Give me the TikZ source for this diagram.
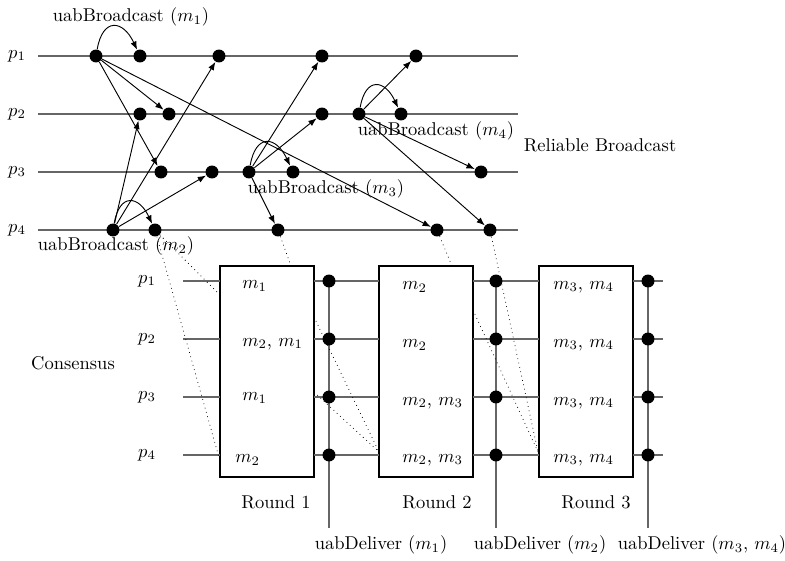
\documentclass[tikz,border=0pt]{standalone}
\usepackage{amsmath,amssymb}
\usetikzlibrary{arrows.meta}

\tikzset{
	dot/.style = {circle, fill=black, inner sep=0pt, minimum size=7pt},
	timeline/.style = {black!60, line width=0.8pt},
	msg/.style = {-{Latex[length=4.5pt,width=3.4pt]}, line width=0.5pt},
	selfmsg/.style = {msg, out=80, in=115, looseness=2.1},
	roundbox/.style = {line width=0.6pt},
	cell/.style = {anchor=west, inner sep=0pt}
}

\begin{document}
\begin{tikzpicture}[x=0.54pt, y=-0.54pt]
	\useasboundingbox (0,0) rectangle (785,560);

	% reliable broadcast
	\foreach \i/\y in {1/56, 2/114, 3/172, 4/230}{
		\node (rb\i) at (17,\y) {$p_{\i}$};
		\draw[timeline] (38,\y)--(518,\y);
	}
	\node (rbname) at (600,145) {Reliable Broadcast};

	% m1 from p1
	\node[dot] (a0) at (96,56) {};
	\node[dot] (a1) at (140,56) {};
	\node[dot] (a2) at (169,114) {};
	\node[dot] (a3) at (161,172) {};
	\node[dot] (a4) at (437,230) {};
	% m2 from p4
	\node[dot] (b0) at (113,230) {};
	\node[dot] (b1) at (219,56) {};
	\node[dot] (b2) at (140,114) {};
	\node[dot] (b3) at (212,172) {};
	\node[dot] (b4) at (155,230) {};
	% m3 from p3
	\node[dot] (c0) at (249,172) {};
	\node[dot] (c1) at (322,56) {};
	\node[dot] (c2) at (322,114) {};
	\node[dot] (c3) at (293,172) {};
	\node[dot] (c4) at (278,230) {};
	% m4 from p2
	\node[dot] (d0) at (359,114) {};
	\node[dot] (d1) at (416,56) {};
	\node[dot] (d2) at (401,114) {};
	\node[dot] (d3) at (481,172) {};
	\node[dot] (d4) at (490,230) {};

	\draw (a0) edge[selfmsg] (a1);
	\foreach \k in {2,3,4} \draw[msg] (a0)--(a\k);
	\draw (b0) edge[selfmsg] (b4);
	\foreach \k in {1,2,3} \draw[msg] (b0)--(b\k);
	\draw (c0) edge[selfmsg] (c3);
	\foreach \k in {1,2,4} \draw[msg] (c0)--(c\k);
	\draw (d0) edge[selfmsg] (d2);
	\foreach \k in {1,3,4} \draw[msg] (d0)--(d\k);

	\node (bc1) at (131,17) {uabBroadcast $(m_1)$};
	\node (bc2) at (116,246) {uabBroadcast $(m_2)$};
	\node (bc3) at (326,189) {uabBroadcast $(m_3)$};
	\node (bc4) at (436,131) {uabBroadcast $(m_4)$};

	% consensus
	\node (consname) at (73,363) {Consensus};
	\draw[roundbox] (220,266) rectangle (314,477);
	\draw[roundbox] (379,266) rectangle (473,477);
	\draw[roundbox] (539,266) rectangle (633,477);
	\foreach \i/\y in {1/281, 2/339, 3/397, 4/455}{
		\node (cp\i) at (147,\y) {$p_{\i}$};
		\draw[timeline] (183,\y)--(220,\y);
		\draw[timeline] (314,\y)--(379,\y);
		\draw[timeline] (473,\y)--(539,\y);
		\draw[timeline] (633,\y)--(663,\y);
	}
	\foreach \j/\x in {1/329, 2/496, 3/648}{
		\coordinate (top\j) at (\x,281);
		\coordinate (out\j) at (\x,528);
		\draw[timeline] (top\j)--(out\j);
		\foreach \i/\y in {1/281, 2/339, 3/397, 4/455}
			\node[dot] (dl\j\i) at (\x,\y) {};
	}

	\node[cell] (r11) at (242,286) {$m_1$};
	\node[cell] (r12) at (242,344) {$m_2$, $m_1$};
	\node[cell] (r13) at (242,398) {$m_1$};
	\node[cell] (r14) at (235,460) {$m_2$};
	\node[cell] (r21) at (402,287) {$m_2$};
	\node[cell] (r22) at (402,345) {$m_2$};
	\node[cell] (r23) at (402,403) {$m_2$, $m_3$};
	\node[cell] (r24) at (402,460) {$m_2$, $m_3$};
	\foreach \i/\y in {1/287, 2/345, 3/403, 4/460}
		\node[cell] (r3\i) at (553,\y) {$m_3$, $m_4$};

	\node (round1) at (276,502) {Round 1};
	\node (round2) at (437,502) {Round 2};
	\node (round3) at (596,502) {Round 3};
	\node (dv1) at (381,545) {uabDeliver $(m_1)$};
	\node (dv2) at (540,545) {uabDeliver $(m_2)$};
	\node (dv3) at (702,545) {uabDeliver $(m_3$, $m_4)$};

	% dotted hand-over
	\coordinate (r1w1) at (220,295);
	\coordinate (r1w4) at (220,461);
	\coordinate (r1n) at (291,266);
	\coordinate (r2n) at (452,266);
	\coordinate (r3w4) at (538,452);
	\coordinate (r1e2) at (314,317);
	\coordinate (r1e3) at (314,392);
	\coordinate (r2w4) at (379,452);
	\coordinate (r2e2) at (473,310);
	\draw[dotted] (b4)--(r1w1);
	\draw[dotted] (b4)--(r1w4);
	\draw[dotted] (c4)--(r1n);
	\draw[dotted] (a4)--(r2n);
	\draw[dotted] (d4)--(r3w4);
	\draw[dotted] (r1e2)--(r2w4);
	\draw[dotted] (r1e3)--(r2w4);
	\draw[dotted] (r2e2)--(r3w4);
\end{tikzpicture}
\end{document}
